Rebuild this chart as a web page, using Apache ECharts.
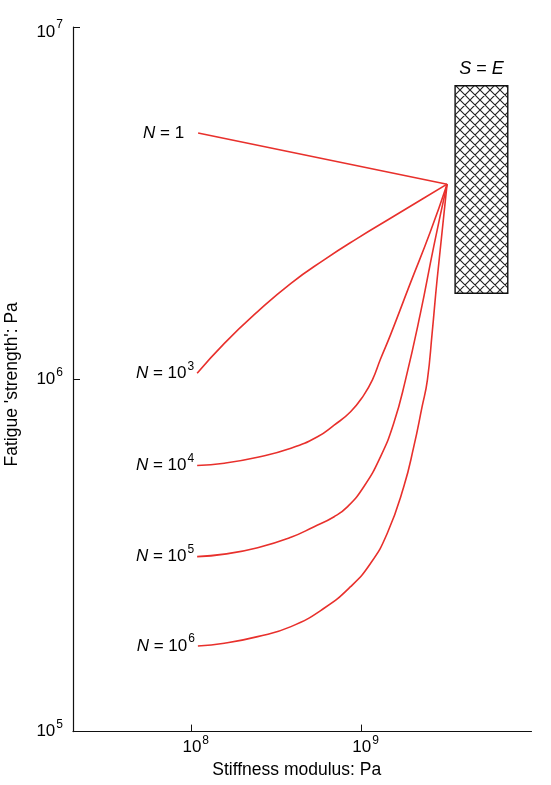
<!DOCTYPE html>
<html>
<head>
<meta charset="utf-8">
<script src="https://cdn.jsdelivr.net/npm/echarts@6/dist/echarts.min.js"></script>
<style>html,body{margin:0;padding:0;background:#fff}#c{width:551px;height:785px}</style>
</head>
<body>
<div id="c"></div>
<script>
// ---- data ----
const xTicks = [1e8, 1e9];
const yTicks = [1e5, 1e6, 1e7];
const xRange = [2e7, 1e10];
const yRange = [1e5, 1e7];

const curveLabels = ['1', '10^3', '10^4', '10^5', '10^6'];
const curveN1 = [[1.09e8, 5.0e6], [3.184e9, 3.58e6]];
const curveN3 = [[1.076e8, 1.04e6], [1.556e8, 1.265e6], [2.443e8, 1.556e6], [3.837e8, 1.873e6],
  [6.01e8, 2.183e6], [9.44e8, 2.512e6], [1.479e9, 2.864e6], [2.317e9, 3.266e6], [3.184e9, 3.58e6]];
const curveN4 = [[1.076e8, 5.69e5], [1.556e8, 5.78e5], [2.443e8, 6.01e5], [3.837e8, 6.37e5],
  [5.50e8, 6.87e5], [6.89e8, 7.41e5], [8.61e8, 8.09e5], [1.03e9, 9.02e5], [1.156e9, 9.95e5],
  [1.292e9, 1.142e6], [1.479e9, 1.337e6], [1.936e9, 1.875e6], [2.535e9, 2.618e6], [3.184e9, 3.58e6]];
const curveN5 = [[1.076e8, 3.138e5], [1.556e8, 3.19e5], [2.443e8, 3.327e5], [3.837e8, 3.562e5],
  [5.22e8, 3.81e5], [6.89e8, 4.074e5], [8.24e8, 4.345e5], [1.03e9, 4.955e5], [1.291e9, 6.026e5],
  [1.545e9, 7.50e5], [1.811e9, 9.95e5], [2.218e9, 1.538e6], [2.655e9, 2.377e6], [3.184e9, 3.58e6]];
const curveN6 = [[1.087e8, 1.75e5], [1.556e8, 1.781e5], [2.443e8, 1.86e5], [3.837e8, 1.986e5],
  [6.01e8, 2.239e5], [8.61e8, 2.579e5], [1.130e9, 3.005e5], [1.416e9, 3.656e5], [1.770e9, 4.955e5],
  [2.028e9, 6.438e5], [2.270e9, 8.36e5], [2.438e9, 9.95e5], [2.600e9, 1.35e6], [2.780e9, 1.914e6],
  [3.184e9, 3.58e6]];
const curves = [curveN1, curveN3, curveN4, curveN5, curveN6];

// hatched S = E band
const bandX = [3.55e9, 7.25e9];
const bandY = [1.755e6, 6.81e6];

// ---- chart ----
const FONT = 'Liberation Sans, Arial, sans-serif';
const TXT = '#000';
const RED = '#e8302c';
const FS = 17, SFS = 12, LH = 26;

function hatchCanvas() {
  const s = 10;
  const c = document.createElement('canvas');
  c.width = s; c.height = s;
  const g = c.getContext('2d');
  g.fillStyle = '#fff'; g.fillRect(0, 0, s, s);
  g.strokeStyle = '#222'; g.lineWidth = 1.1;
  g.beginPath();
  for (let k = -1; k <= 1; k++) {
    g.moveTo(-2, -2 + s * k); g.lineTo(s + 2, s + 2 + s * k);
    g.moveTo(-2, s + 2 + s * k); g.lineTo(s + 2, -2 + s * k);
  }
  g.stroke();
  return c;
}

const powRich = {
  b: { fontSize: FS, fontFamily: FONT, color: TXT, fontStyle: 'normal', lineHeight: LH, verticalAlign: 'middle' },
  s: { fontSize: SFS, fontFamily: FONT, color: TXT, fontStyle: 'normal', lineHeight: LH, verticalAlign: 'top', padding: [0, 0, 0, 1] },
  i: { fontSize: FS, fontFamily: FONT, color: TXT, fontStyle: 'italic', lineHeight: LH, verticalAlign: 'middle' },
  e: { fontSize: 1, lineHeight: 10 }
};
function powLabel(v) {
  const e = Math.round(Math.log10(v));
  const txt = '{b|10}{s|' + e + '}';
  return v >= yRange[1] * 0.999 ? '{e|}\n' + txt : txt;
}
function xPowLabel(v) {
  const e = Math.round(Math.log10(v));
  return '{b|10}{s|' + e + '}';
}
function nLabel(t) {
  if (t.indexOf('^') < 0) return '{i|N}{b| = ' + t + '}';
  const p = t.split('^');
  return '{i|N}{b| = ' + p[0] + '}{s|' + p[1] + '}';
}

const chart = echarts.init(document.getElementById('c'), null, { renderer: 'canvas' });

const lineSeries = curves.map((d, idx) => ({
  type: 'line',
  data: d,
  smooth: idx === 0 ? false : 0.5,
  showSymbol: false,
  symbol: 'none',
  lineStyle: { color: RED, width: 1.6 },
  z: 3,
  silent: true
}));

lineSeries[0].markArea = {
  silent: true,
  itemStyle: {
    color: { image: hatchCanvas(), repeat: 'repeat' },
    borderColor: '#111',
    borderWidth: 1.4
  },
  label: {
    show: true,
    position: 'top',
    distance: 3,
    formatter: '{i|S}{b| = }{i|E}',
    rich: {
      b: Object.assign({}, powRich.b, { fontSize: 18 }),
      i: Object.assign({}, powRich.i, { fontSize: 18 })
    }
  },
  data: [[{ coord: [bandX[0], bandY[1]] }, { coord: [bandX[1], bandY[0]] }]]
};

const labelSeries = {
  type: 'scatter',
  symbol: 'circle',
  symbolSize: 2,
  itemStyle: { color: 'rgba(0,0,0,0)', opacity: 1 },
  silent: true,
  z: 4,
  data: curves.map((d, i) => ({
    value: d[0],
    label: {
      show: true,
      position: 'left',
      color: TXT,
      opacity: 1,
      distance: curveLabels[i].indexOf('^') < 0 ? 13 : 2,
      formatter: nLabel(curveLabels[i]),
      rich: powRich
    }
  }))
};

chart.setOption({
  animation: false,
  backgroundColor: '#fff',
  grid: { left: 73, right: 19.5, top: 27, bottom: 53.4, containLabel: false, outerBoundsMode: 'none' },
  xAxis: {
    type: 'log',
    min: xRange[0],
    max: xRange[1],
    name: 'Stiffness modulus: Pa',
    nameLocation: 'middle',
    nameGap: 30,
    nameTextStyle: { fontSize: 17.5, fontFamily: FONT, color: TXT, padding: [0, 11, 0, 0] },
    axisLine: { show: true, lineStyle: { color: '#111', width: 1.2 } },
    axisTick: { show: true, inside: true, length: 7, customValues: xTicks, lineStyle: { color: '#111', width: 1 } },
    axisLabel: { show: true, customValues: xTicks, margin: 3, padding: [0, 0, 0, 8], formatter: xPowLabel, rich: powRich },
    splitLine: { show: false },
    minorTick: { show: false }
  },
  yAxis: {
    type: 'log',
    min: yRange[0],
    max: yRange[1],
    name: "Fatigue 'strength': Pa",
    nameLocation: 'middle',
    nameGap: 52,
    nameRotate: 90,
    nameTextStyle: { fontSize: 17.5, fontFamily: FONT, color: TXT, padding: [0, 10, 0, 0] },
    axisLine: { show: true, lineStyle: { color: '#111', width: 1.2 } },
    axisTick: { show: true, inside: true, length: 7, customValues: yTicks, lineStyle: { color: '#111', width: 1 } },
    axisLabel: { show: true, customValues: yTicks, margin: 10, formatter: powLabel, rich: powRich },
    splitLine: { show: false },
    minorTick: { show: false }
  },
  series: lineSeries.concat([labelSeries])
});
</script>
</body>
</html>
